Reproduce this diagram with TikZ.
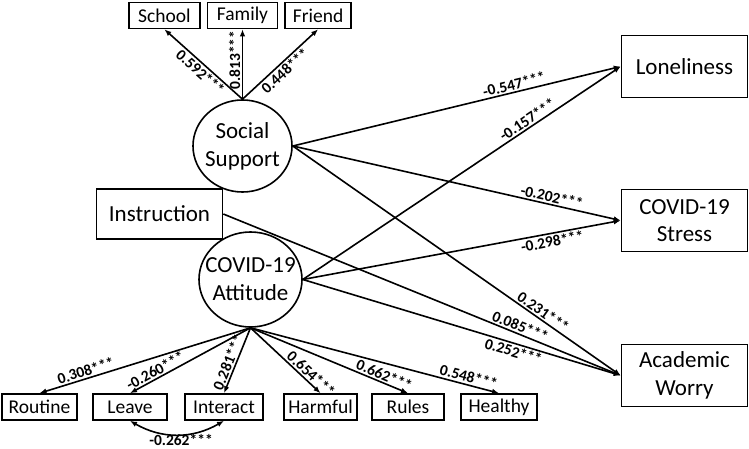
\documentclass[tikz,border=0pt]{standalone}
\usepackage{fontspec}
\setmainfont{Carlito}
\usetikzlibrary{shapes.geometric, arrows.meta, positioning}
\tikzset{>={Latex[length=7pt,width=5.5pt]}}
\tikzset{
  indicator/.style={rectangle, draw=black, line width=1.6pt, align=center, minimum width=71pt, minimum height=26pt, inner xsep=3pt, inner ysep=1pt, font=\fontsize{19.5}{22}\selectfont},
  outcome/.style={rectangle, draw=black, line width=1.6pt, align=center, minimum width=126pt, minimum height=62pt, font=\fontsize{23}{27.5}\selectfont},
  latent/.style={ellipse, draw=black, line width=1.6pt, align=center, inner sep=0pt, font=\fontsize{23}{28}\selectfont},
  effect/.style={->, line width=1.6pt},
  coef/.style={font=\bfseries\fontsize{15.5}{17}\selectfont, sloped, inner sep=1.5pt}
}

\begin{document}
\begin{tikzpicture}[x=1pt, y=1pt]
\useasboundingbox (0,0) rectangle (749,448);

% Latent factors and predictor
\node[latent, minimum width=99pt, minimum height=92pt] (support) at (242.5,302) {\makebox[0pt]{Social}\\\makebox[0pt]{Support}};
\node[latent, minimum width=103pt, minimum height=95pt] (attitude) at (250.5,168.5) {\makebox[0pt]{COVID-19}\\\makebox[0pt]{Attitude}};
\node[outcome, minimum height=50pt] (instr) at (159.5,234) {Instruction};

% Outcomes
\node[outcome] (lonely) at (684.5,381.5) {Loneliness};
\node[outcome] (stress) at (684.5,227.5) {COVID-19\\Stress};
\node[outcome] (worry) at (684.5,72.5) {Academic\\Worry};

% Top row
\node[indicator, minimum width=70pt] (family) at (242.5,432.5) {Family};
\node[indicator] (school) [left=6pt of family] {School};
\node[indicator, minimum width=66pt] (friend) [right=6pt of family] {Friend};

% Bottom row
\node[indicator, minimum width=75pt] (routine) at (39.5,41) {Routine};
\node[indicator, minimum width=74pt] (leave) at (130,41) {Leave};
\node[indicator, minimum width=78pt] (interact) at (224,41) {Interact};
\node[indicator, minimum width=73pt] (harmful) at (320.5,41) {Harmful};
\node[indicator, minimum width=72pt] (rules) at (408,41) {Rules};
\node[indicator, minimum width=76pt] (healthy) at (499,41) {Healthy};

% Loadings
\draw[effect] (support.north) -- node[coef, pos=0.47, below] {0.592***} (school.south);
\draw[effect] (support.north) -- node[coef, pos=0.56, above] {0.813***} (family.south);
\draw[effect] (support.north) -- node[coef, pos=0.49, below] {0.448***} (friend.south);
\draw[effect] (attitude.south) -- node[coef, pos=0.77, above] {0.308***} (routine.north);
\draw[effect] (attitude.south) -- node[coef, pos=0.76, above] {-0.260***} (leave.north);
\draw[effect] (attitude.south) -- node[coef, pos=0.57, above] {0.281***} (interact.north);
\draw[effect] (attitude.south) -- node[coef, pos=0.79, above] {0.654***} (harmful.north);
\draw[effect] (attitude.south) -- node[coef, pos=0.83, above] {0.662***} (rules.north);
\draw[effect] (attitude.south) -- node[coef, pos=0.87, above] {0.548***} (healthy.north);
\draw[<->, line width=1.6pt] (leave.south) to[out=-30, in=-150] node[coef, sloped=false, below=0pt, xshift=4pt, yshift=2pt] {-0.262***} (interact.south);

% Structural paths
\draw[effect] (support.east) -- node[coef, pos=0.68, above] {-0.547***} (lonely.west);
\draw[effect] (support.east) -- node[coef, pos=0.785, above] {-0.202***} (stress.west);
\draw[effect] (support.east) -- node[coef, pos=0.75, above] {0.231***} (worry.west);
\draw[effect] (instr.east) -- node[coef, pos=0.74, above] {0.085***} (worry.west);
\draw[effect] (attitude.east) -- node[coef, pos=0.72, above] {-0.157***} (lonely.west);
\draw[effect] (attitude.east) -- node[coef, pos=0.78, below] {-0.298***} (stress.west);
\draw[effect] (attitude.east) -- node[coef, pos=0.67, below] {0.252***} (worry.west);

\end{tikzpicture}
\end{document}
